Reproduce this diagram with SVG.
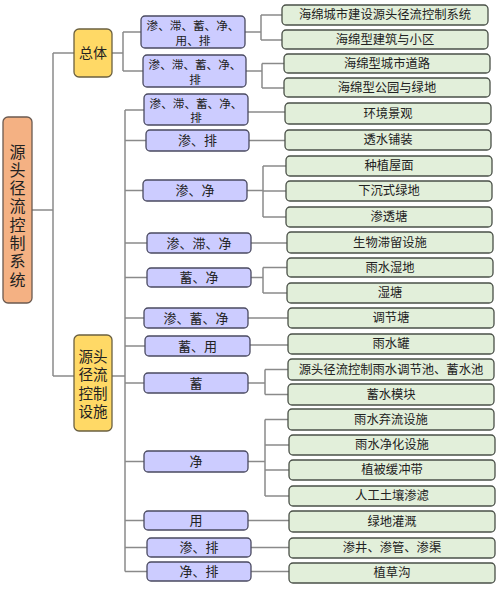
<svg xmlns="http://www.w3.org/2000/svg" width="500" height="591" viewBox="0 0 500 591">
<style>
text{font-family:"Liberation Sans","Noto Sans CJK SC",sans-serif;fill:#222;text-anchor:middle;dominant-baseline:central}
.root{fill:#F4B183;stroke:#6b5a50;stroke-width:1.3}
.yel{fill:#FFD966;stroke:#6b6040;stroke-width:1.3}
.pur{fill:#CCCCFF;stroke:#4a4a60;stroke-width:1.3}
.grn{fill:#E2EFDA;stroke:#4a5048;stroke-width:1.3}
.p{font-size:13px}
.p2{font-size:11.6px}
.g{font-size:12.3px}
.c{fill:none;stroke:#8a8a8a;stroke-width:1.5}
</style>
<rect width="500" height="591" fill="#ffffff"/>
<g id="connectors" class="c">
<path d="M32,210H53M53,53V376M53,53H74M53,376H74"/>
<path d="M112,53H123M123,32V71M123,32H141M123,71H143"/>
<path d="M245,32H261M261,15V40M261,15H282M261,40H282"/>
<path d="M246,71H262M262,63.5V88M262,63.5H284M262,88H284"/>
<path d="M112,376H125M125,110V571.5M125,110H144M125,140.5H146M125,190.5H143M125,243H147M125,277.5H147M125,318H144M125,346H145M125,383H144M125,461.5H144M125,520.5H144M125,547.5H147M125,571.5H147"/>
<path d="M248,112H285M249,140.5H285"/>
<path d="M247,190.5H263M263,166V217M263,166H286M263,191H286M263,217H286"/>
<path d="M251,243H287"/>
<path d="M251,277.5H263M263,267.5V293M263,267.5H287M263,293H287"/>
<path d="M248,318H288M250,345H288"/>
<path d="M248,383H265M265,369.5V394.5M265,369.5H288M265,394.5H288"/>
<path d="M248,461.5H265M265,419.5V496M265,419.5H288M265,445H289M265,470H289M265,496H289"/>
<path d="M248,520.5H289M251,547.5H289M251,571.5H289"/>
</g>
<g id="root"><rect class="root" x="3" y="117" width="29" height="186" rx="5"/>
<text x="17.5" y="152" font-size="16">源</text><text x="17.5" y="170.3" font-size="16">头</text><text x="17.5" y="188.6" font-size="16">径</text><text x="17.5" y="206.9" font-size="16">流</text><text x="17.5" y="225.2" font-size="16">控</text><text x="17.5" y="243.5" font-size="16">制</text><text x="17.5" y="261.8" font-size="16">系</text><text x="17.5" y="280" font-size="16">统</text></g>
<g id="zongti"><rect class="yel" x="74" y="29" width="38" height="48" rx="5"/><text x="93" y="53" font-size="14">总体</text></g>
<g id="sheshi"><rect class="yel" x="74" y="335" width="38" height="96" rx="5"/>
<text x="93" y="356.5" font-size="14.5">源头</text><text x="93" y="375" font-size="14.5">径流</text><text x="93" y="393.5" font-size="14.5">控制</text><text x="93" y="412" font-size="14.5">设施</text></g>
<g id="p1"><rect class="pur" x="141" y="16" width="104" height="32" rx="4"/><text class="p2" x="193" y="25">渗、滞、蓄、净、</text><text class="p2" x="193" y="40">用、排</text></g>
<g id="p2"><rect class="pur" x="143" y="55" width="103" height="32" rx="4"/><text class="p2" x="195" y="64">渗、滞、蓄、净、</text><text class="p2" x="195" y="79">排</text></g>
<g id="p3"><rect class="pur" x="144" y="94" width="104" height="31" rx="4"/><text class="p2" x="196" y="103">渗、滞、蓄、净、</text><text class="p2" x="196" y="117.5">排</text></g>
<g id="p4"><rect class="pur" x="146" y="130" width="103" height="21" rx="4"/><text class="p" x="197.5" y="140.5">渗、排</text></g>
<g id="p5"><rect class="pur" x="143" y="180" width="104" height="21" rx="4"/><text class="p" x="195" y="190.5">渗、净</text></g>
<g id="p6"><rect class="pur" x="147" y="233" width="104" height="20" rx="4"/><text class="p" x="199" y="243">渗、滞、净</text></g>
<g id="p7"><rect class="pur" x="147" y="268" width="104" height="19" rx="4"/><text class="p" x="199" y="277.5">蓄、净</text></g>
<g id="p8"><rect class="pur" x="144" y="308" width="104" height="20" rx="4"/><text class="p" x="196" y="318">渗、蓄、净</text></g>
<g id="p9"><rect class="pur" x="145" y="336" width="105" height="20" rx="4"/><text class="p" x="197.5" y="346">蓄、用</text></g>
<g id="p10"><rect class="pur" x="144" y="373" width="104" height="20" rx="4"/><text class="p" x="196" y="383">蓄</text></g>
<g id="p11"><rect class="pur" x="144" y="451" width="104" height="21" rx="4"/><text class="p" x="196" y="461.5">净</text></g>
<g id="p12"><rect class="pur" x="144" y="511" width="104" height="19" rx="4"/><text class="p" x="196" y="520.5">用</text></g>
<g id="p13"><rect class="pur" x="147" y="538" width="104" height="19" rx="4"/><text class="p" x="199" y="547.5">渗、排</text></g>
<g id="p14"><rect class="pur" x="147" y="562" width="104" height="19" rx="4"/><text class="p" x="199" y="571.5">净、排</text></g>
<g id="g1"><rect class="grn" x="282" y="5" width="206" height="20" rx="4"/><text class="g" x="385" y="15">海绵城市建设源头径流控制系统</text></g>
<g id="g2"><rect class="grn" x="282" y="30" width="206" height="19" rx="4"/><text class="g" x="385" y="39.5">海绵型建筑与小区</text></g>
<g id="g3"><rect class="grn" x="284" y="54" width="206" height="19" rx="4"/><text class="g" x="387" y="63.5">海绵型城市道路</text></g>
<g id="g4"><rect class="grn" x="284" y="78" width="206" height="19" rx="4"/><text class="g" x="387" y="87.5">海绵型公园与绿地</text></g>
<g id="g5"><rect class="grn" x="285" y="103" width="206" height="21" rx="4"/><text class="g" x="388" y="113.5">环境景观</text></g>
<g id="g6"><rect class="grn" x="285" y="130" width="206" height="20" rx="4"/><text class="g" x="388" y="140">透水铺装</text></g>
<g id="g7"><rect class="grn" x="286" y="156" width="206" height="20" rx="4"/><text class="g" x="389" y="166">种植屋面</text></g>
<g id="g8"><rect class="grn" x="286" y="181" width="206" height="20" rx="4"/><text class="g" x="389" y="191">下沉式绿地</text></g>
<g id="g9"><rect class="grn" x="286" y="207" width="206" height="20" rx="4"/><text class="g" x="389" y="217">渗透塘</text></g>
<g id="g10"><rect class="grn" x="287" y="232" width="206" height="21" rx="4"/><text class="g" x="390" y="242.5">生物滞留设施</text></g>
<g id="g11"><rect class="grn" x="287" y="258" width="206" height="19" rx="4"/><text class="g" x="390" y="267.5">雨水湿地</text></g>
<g id="g12"><rect class="grn" x="287" y="283" width="206" height="20" rx="4"/><text class="g" x="390" y="293">湿塘</text></g>
<g id="g13"><rect class="grn" x="288" y="308" width="206" height="20" rx="4"/><text class="g" x="391" y="318">调节塘</text></g>
<g id="g14"><rect class="grn" x="288" y="334" width="206" height="20" rx="4"/><text class="g" x="391" y="344">雨水罐</text></g>
<g id="g15"><rect class="grn" x="288" y="359" width="206" height="21" rx="4"/><text class="g" x="391" y="369.5">源头径流控制雨水调节池、蓄水池</text></g>
<g id="g16"><rect class="grn" x="288" y="384" width="206" height="21" rx="4"/><text class="g" x="391" y="394.5">蓄水模块</text></g>
<g id="g17"><rect class="grn" x="288" y="409" width="206" height="21" rx="4"/><text class="g" x="391" y="419.5">雨水弃流设施</text></g>
<g id="g18"><rect class="grn" x="289" y="435" width="206" height="20" rx="4"/><text class="g" x="392" y="445">雨水净化设施</text></g>
<g id="g19"><rect class="grn" x="289" y="460" width="206" height="20" rx="4"/><text class="g" x="392" y="470">植被缓冲带</text></g>
<g id="g20"><rect class="grn" x="289" y="486" width="206" height="20" rx="4"/><text class="g" x="392" y="496">人工土壤渗滤</text></g>
<g id="g21"><rect class="grn" x="289" y="511" width="206" height="21" rx="4"/><text class="g" x="392" y="521.5">绿地灌溉</text></g>
<g id="g22"><rect class="grn" x="289" y="538" width="206" height="20" rx="4"/><text class="g" x="392" y="548">渗井、渗管、渗渠</text></g>
<g id="g23"><rect class="grn" x="289" y="563" width="206" height="20" rx="4"/><text class="g" x="392" y="573">植草沟</text></g>
</svg>
